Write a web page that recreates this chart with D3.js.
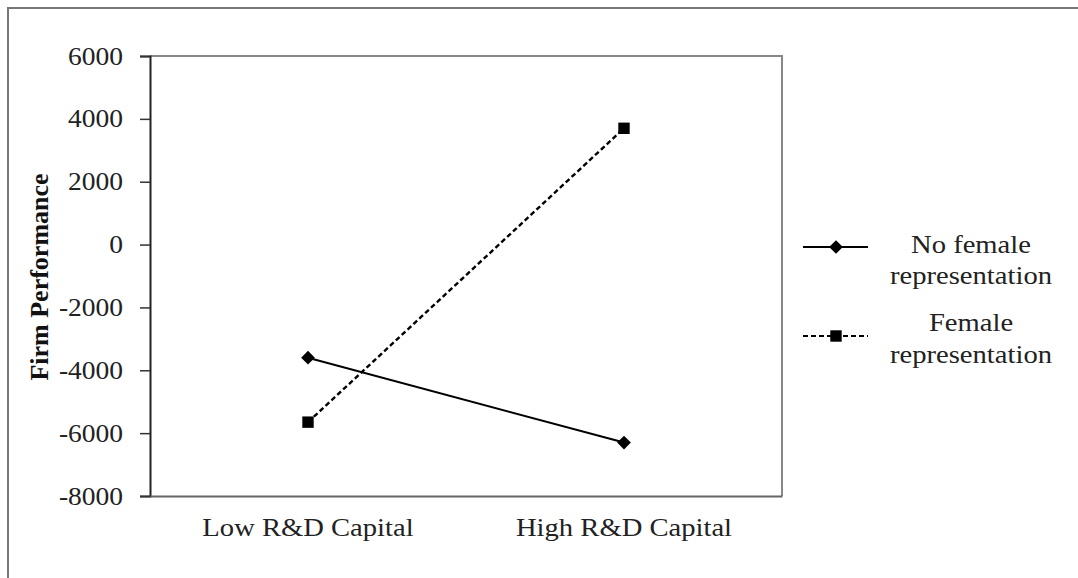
<!DOCTYPE html>
<html>
<head>
<meta charset="utf-8">
<script src="https://cdn.jsdelivr.net/npm/d3@7"></script>
<style>
  html, body { margin: 0; padding: 0; background: #fff; }
  svg { display: block; }
</style>
</head>
<body>
<svg id="chart" width="1078" height="578"></svg>
<script>
// Interaction plot: firm performance by R&D capital level and board gender composition
const categories = ["Low R&D Capital", "High R&D Capital"];
const noFemale = [-3600, -6300];
const female = [-5650, 3700];
const yTicks = [6000, 4000, 2000, 0, -2000, -4000, -6000, -8000];
const seriesNames = [["No female", "representation"], ["Female", "representation"]];

const svg = d3.select("#chart");
const W = 1078, H = 578;
const plot = { left: 150, right: 782, top: 56, bottom: 496 };
const serif = "'Liberation Serif', 'Times New Roman', serif";
const stretch = 1.1; // text is set slightly wide

// Outer frame
svg.append("rect").attr("x", 8).attr("y", 8)
  .attr("width", W + 10).attr("height", H + 10)
  .attr("fill", "none").attr("stroke", "#777").attr("stroke-width", 2);

const x = d3.scaleBand().domain(categories).range([plot.left, plot.right]).padding(0);
const y = d3.scaleLinear().domain([-8000, 6000]).range([plot.bottom, plot.top]);

// Plot frame (top and right edges)
svg.append("path")
  .attr("d", `M${plot.left},${plot.top}H${plot.right}V${plot.bottom}`)
  .attr("fill", "none").attr("stroke", "#888").attr("stroke-width", 2);

// Y axis
const yAxis = svg.append("g").attr("transform", `translate(${plot.left},0)`)
  .call(d3.axisLeft(y).tickValues(yTicks).tickSize(10).tickPadding(17)
    .tickFormat(d => String(d)));
yAxis.select(".domain").attr("stroke", "#222").attr("stroke-width", 2);
yAxis.selectAll(".tick line").attr("stroke", "#333").attr("stroke-width", 1.5);
yAxis.selectAll(".tick text")
  .attr("x", -27 / stretch)
  .attr("transform", `scale(${stretch},1)`)
  .attr("font-family", serif)
  .attr("font-size", 25).attr("fill", "#222");

// X axis
const xAxis = svg.append("g").attr("transform", `translate(0,${plot.bottom})`)
  .call(d3.axisBottom(x).tickSize(0).tickPadding(22));
xAxis.select(".domain").attr("stroke", "#666").attr("stroke-width", 2);
xAxis.selectAll(".tick text")
  .attr("y", 40).attr("dy", null)
  .attr("transform", `scale(${stretch},1)`)
  .attr("font-family", serif)
  .attr("font-size", 26).attr("fill", "#222");

// Y axis title
svg.append("text")
  .attr("transform", `translate(48,${(plot.top + plot.bottom) / 2 + 1}) rotate(-90)`)
  .attr("text-anchor", "middle")
  .attr("font-family", serif)
  .attr("font-weight", "bold").attr("font-size", 26).attr("fill", "#111")
  .text("Firm Performance");

const cx = d => x(d) + x.bandwidth() / 2;
const line = d3.line().x(d => cx(d.cat)).y(d => y(d.v));

const s1 = categories.map((c, i) => ({ cat: c, v: noFemale[i] }));
const s2 = categories.map((c, i) => ({ cat: c, v: female[i] }));

svg.append("path").datum(s1).attr("d", line)
  .attr("fill", "none").attr("stroke", "#000").attr("stroke-width", 2);
svg.append("path").datum(s2).attr("d", line)
  .attr("fill", "none").attr("stroke", "#000").attr("stroke-width", 2.4)
  .attr("stroke-dasharray", "5,3");

const diamond = d3.symbol().type(d3.symbolDiamond2).size(120);
const square = d3.symbol().type(d3.symbolSquare).size(130);

svg.selectAll(".m1").data(s1).join("path")
  .attr("transform", d => `translate(${cx(d.cat)},${y(d.v)})`)
  .attr("d", diamond).attr("fill", "#000");
svg.selectAll(".m2").data(s2).join("path")
  .attr("transform", d => `translate(${cx(d.cat)},${y(d.v)})`)
  .attr("d", square).attr("fill", "#000");

// Legend
const legend = svg.append("g");
const items = [
  { name: seriesNames[0], ly: 247, dash: null, sym: diamond, textY: [253, 284] },
  { name: seriesNames[1], ly: 336, dash: "5,3", sym: square, textY: [331, 363] }
];
items.forEach(it => {
  legend.append("line").attr("x1", 803).attr("x2", 868).attr("y1", it.ly).attr("y2", it.ly)
    .attr("stroke", "#000").attr("stroke-width", 2)
    .attr("stroke-dasharray", it.dash);
  legend.append("path").attr("transform", `translate(836,${it.ly})`)
    .attr("d", it.sym).attr("fill", "#000");
  it.name.forEach((t, k) => {
    legend.append("text")
      .attr("transform", `translate(971,${it.textY[k]}) scale(${stretch},1)`)
      .attr("text-anchor", "middle")
      .attr("font-family", serif).attr("font-size", 26).attr("fill", "#222")
      .text(t);
  });
});
</script>
</body>
</html>
